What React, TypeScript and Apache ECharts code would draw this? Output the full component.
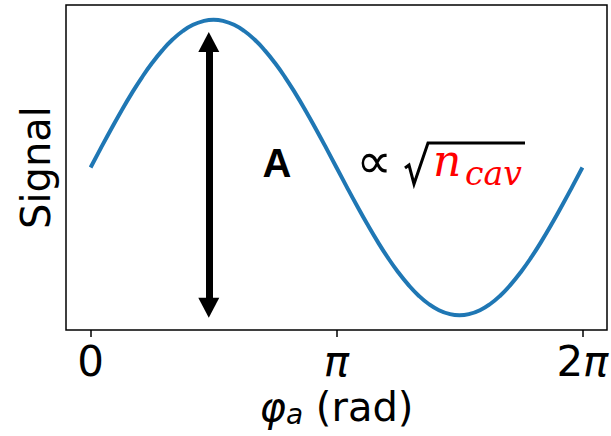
import React, { useEffect, useRef } from "react";
import * as echarts from "echarts";

// Phase samples, in steps of pi/24 from 0 to 2pi
const phaseSteps: number[] = [
  0, 1, 2, 3, 4, 5, 6, 7, 8, 9, 10, 11, 12, 13, 14, 15, 16, 17, 18, 19, 20, 21, 22, 23, 24,
  25, 26, 27, 28, 29, 30, 31, 32, 33, 34, 35, 36, 37, 38, 39, 40, 41, 42, 43, 44, 45, 46, 47, 48,
];
// Signal read at each phase sample
const signalValues: number[] = [
  0, 0.131, 0.259, 0.383, 0.5, 0.609, 0.707, 0.793, 0.866, 0.924, 0.966, 0.991, 1.0,
  0.991, 0.966, 0.924, 0.866, 0.793, 0.707, 0.609, 0.5, 0.383, 0.259, 0.131, 0,
  -0.131, -0.259, -0.383, -0.5, -0.609, -0.707, -0.793, -0.866, -0.924, -0.966, -0.991, -1.0,
  -0.991, -0.966, -0.924, -0.866, -0.793, -0.707, -0.609, -0.5, -0.383, -0.259, -0.131, 0,
];
// x-axis ticks (radians) and their labels
const xTickValues: number[] = [0, Math.PI, 2 * Math.PI];
const xTickLabels: string[] = ["0", "{p|π}", "2{p|π}"];
// Amplitude arrow: phase and the two ends of its shaft
const arrowPhase = 1.51;
const arrowTop = 0.85;
const arrowBottom = -0.95;

const FONT = "DejaVu Sans";

export default function App() {
  const ref = useRef<HTMLDivElement>(null);

  useEffect(() => {
    if (!ref.current) return;
    const chart = echarts.init(ref.current, null, { renderer: "svg" });
    const points = phaseSteps.map((k, i) => [(k * Math.PI) / 24, signalValues[i]]);
    const margin = (2 * Math.PI) / 20;

    const triangle = "path://M10,0L20,20L0,20Z";

    chart.setOption({
      animation: false,
      backgroundColor: "#ffffff",
      grid: {
        left: 66,
        right: 4,
        top: 5,
        bottom: 106,
        show: true,
        borderColor: "#000",
        borderWidth: 1.5,
        containLabel: false,
        outerBoundsMode: "none",
      },
      xAxis: {
        type: "value",
        min: -margin,
        max: 2 * Math.PI + margin,
        axisLine: { show: false, onZero: false },
        splitLine: { show: false },
        axisTick: {
          show: true,
          customValues: xTickValues,
          length: 7,
          lineStyle: { color: "#000", width: 1.5 },
        },
        axisLabel: {
          customValues: xTickValues,
          margin: 10,
          fontFamily: FONT,
          fontSize: 42,
          color: "#000",
          formatter: (v: number) => {
            const idx = xTickValues.findIndex((t) => Math.abs(t - v) < 1e-6);
            return idx >= 0 ? xTickLabels[idx] : "";
          },
          rich: {
            p: { fontFamily: FONT, fontSize: 42, fontStyle: "italic", color: "#000" },
          },
        },
        name: "{phi|φ}{sub|a} (rad)",
        nameLocation: "middle",
        nameGap: 56,
        nameTextStyle: {
          fontFamily: FONT,
          fontSize: 40,
          color: "#000",
          rich: {
            phi: { fontFamily: FONT, fontSize: 40, fontStyle: "italic", color: "#000" },
            sub: {
              fontFamily: FONT,
              fontSize: 28,
              fontStyle: "italic",
              color: "#000",
              padding: [14, 0, 0, 0],
            },
          },
        },
      },
      yAxis: {
        type: "value",
        min: -1.1,
        max: 1.1,
        axisLine: { show: false, onZero: false },
        axisTick: { show: false },
        axisLabel: { show: false },
        splitLine: { show: false },
        name: "Signal",
        nameLocation: "middle",
        nameRotate: 90,
        nameGap: 10,
        nameTextStyle: { fontFamily: FONT, fontSize: 40, color: "#000" },
      },
      series: [
        {
          type: "line",
          data: points,
          smooth: 0.5,
          symbol: "none",
          lineStyle: { color: "#1f77b4", width: 4, cap: "butt", join: "round" },
          markLine: {
            silent: true,
            symbol: [triangle, triangle],
            symbolSize: [21, 20],
            label: { show: false },
            lineStyle: { color: "#000", width: 7, type: "solid" },
            emphasis: { disabled: true },
            data: [
              [
                { coord: [arrowPhase, arrowTop] },
                { coord: [arrowPhase, arrowBottom] },
              ],
            ],
          },
        },
      ],
      graphic: [
        {
          type: "text",
          x: 277,
          y: 163,
          style: {
            text: "A",
            fontFamily: "Liberation Sans",
            fontWeight: "bold",
            fontSize: 40,
            fill: "#000",
            align: "center",
            verticalAlign: "middle",
          },
        },
        {
          type: "text",
          x: 374,
          y: 161,
          style: {
            text: "∝",
            fontFamily: FONT,
            fontSize: 50,
            fill: "#000",
            align: "center",
            verticalAlign: "middle",
          },
        },
        {
          type: "polyline",
          shape: {
            points: [
              [405, 168],
              [409, 165],
              [414, 184],
              [428, 143],
              [525, 143],
            ],
          },
          style: { stroke: "#000", lineWidth: 3, fill: null, lineJoin: "miter" },
        },
        {
          type: "text",
          x: 433,
          y: 160,
          style: {
            text: "n",
            fontFamily: "DejaVu Serif",
            fontStyle: "italic",
            fontSize: 44,
            fill: "#ff0000",
            align: "left",
            verticalAlign: "middle",
          },
        },
        {
          type: "text",
          x: 465,
          y: 173,
          style: {
            text: "cav",
            fontFamily: "DejaVu Serif",
            fontStyle: "italic",
            fontSize: 33,
            fill: "#ff0000",
            align: "left",
            verticalAlign: "middle",
          },
        },
      ],
    });

    return () => chart.dispose();
  }, []);

  return (
    <div
      ref={ref}
      style={{ position: "fixed", left: 0, top: 0, width: 611, height: 436 }}
    />
  );
}
